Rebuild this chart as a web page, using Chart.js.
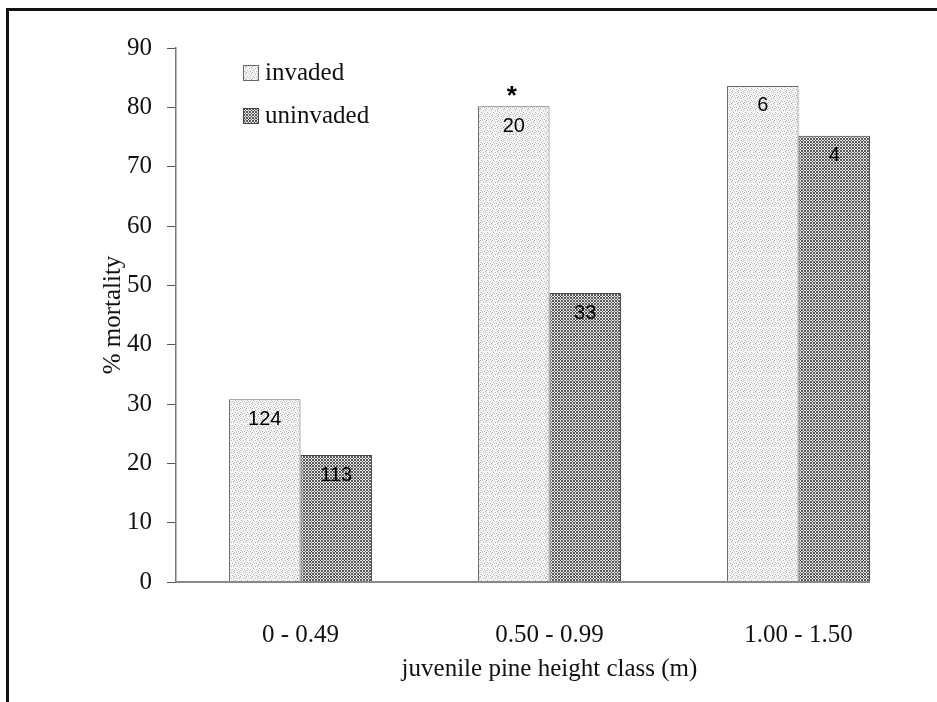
<!DOCTYPE html>
<html>
<head>
<meta charset="utf-8">
<script src="https://cdn.jsdelivr.net/npm/chart.js@4.4.1/dist/chart.umd.min.js"></script>
<style>
  html, body { margin: 0; padding: 0; background: #fff; }
  #wrap { position: relative; width: 937px; height: 702px; overflow: hidden; background: #fff; }
  #frame { position: absolute; left: 6px; top: 8px; width: 1000px; height: 800px;
           border-top: 3px solid #111; border-left: 3px solid #111; }
  canvas { position: absolute; left: 0; top: 0; }
</style>
</head>
<body>
<div id="wrap">
  <div id="frame"></div>
  <canvas id="c" width="937" height="702"></canvas>
</div>
<script>
// ---- data ----
const categories = ['0 - 0.49', '0.50 - 0.99', '1.00 - 1.50'];
const invaded = [30.8, 80.2, 83.6];
const uninvaded = [21.4, 48.7, 75.2];
const invadedN = ['124', '20', '6'];
const uninvadedN = ['113', '33', '4'];
const significance = ['', '*', ''];
const seriesNames = ['invaded', 'uninvaded'];
const yTicks = [0, 10, 20, 30, 40, 50, 60, 70, 80, 90];

function makePattern(kind) {
  const t = document.createElement('canvas');
  t.width = 6; t.height = 6;
  const g = t.getContext('2d');
  if (kind === 'light') {
    g.fillStyle = '#f6f6f6'; g.fillRect(0, 0, 6, 6);
    g.fillStyle = '#b0b0b0';
    [[0,0],[3,2],[1,4],[4,5],[5,1]].forEach(p => g.fillRect(p[0], p[1], 1, 1));
    g.fillStyle = '#d8d8d8';
    [[2,0],[5,3],[0,2],[2,5]].forEach(p => g.fillRect(p[0], p[1], 1, 1));
  } else {
    g.fillStyle = '#e8e8e8'; g.fillRect(0, 0, 6, 6);
    g.fillStyle = '#5a5a5a';
    for (let y = 0; y < 6; y++) for (let x = 0; x < 6; x++) {
      if ((Math.floor(x / 1.5) + Math.floor(y / 1.5)) % 2 === 0) g.fillRect(x, y, 1, 1);
    }
  }
  return g.createPattern(t, 'repeat');
}
const ctx0 = document.getElementById('c').getContext('2d');
const patLight = makePattern('light');
const patDark = makePattern('dark');

const serif = "'Liberation Serif', 'DejaVu Serif', serif";
const sans = "'Liberation Sans', Arial, sans-serif";

const annotate = {
  id: 'annotate',
  afterDatasetsDraw(chart) {
    const ctx = chart.ctx;
    const m0 = chart.getDatasetMeta(0);
    const m1 = chart.getDatasetMeta(1);
    const lastBar = m1.data[m1.data.length - 1];
    const yBase = chart.scales.y.getPixelForValue(0);
    ctx.save();
    ctx.strokeStyle = '#8a8a8a';
    ctx.lineWidth = 2;
    ctx.beginPath();
    ctx.moveTo(chart.chartArea.left, yBase);
    ctx.lineTo(lastBar.x + lastBar.width / 2, yBase);
    ctx.stroke();

    ctx.fillStyle = '#000';
    ctx.textAlign = 'center';
    ctx.textBaseline = 'middle';
    ctx.font = '20px ' + sans;
    m0.data.forEach((el, i) => ctx.fillText(invadedN[i], el.x, el.y + 20));
    m1.data.forEach((el, i) => ctx.fillText(uninvadedN[i], el.x, el.y + 20));
    ctx.font = 'bold 26px ' + sans;
    m0.data.forEach((el, i) => {
      if (significance[i]) ctx.fillText(significance[i], el.x - 2, el.y - 9);
    });

    const items = [[patLight, '#666', seriesNames[0], 73], [patDark, '#444', seriesNames[1], 116]];
    ctx.font = '25px ' + serif;
    ctx.textAlign = 'left';
    items.forEach(it => {
      ctx.fillStyle = it[0];
      ctx.fillRect(243, it[3] - 8, 16, 16);
      ctx.strokeStyle = it[1];
      ctx.lineWidth = 1;
      ctx.strokeRect(243.5, it[3] - 7.5, 15, 15);
      ctx.fillStyle = '#111';
      ctx.fillText(it[2], 265, it[3]);
    });
    ctx.restore();
  }
};

new Chart(ctx0, {
  type: 'bar',
  data: {
    labels: categories,
    datasets: [
      { label: seriesNames[0], data: invaded, backgroundColor: patLight, borderColor: '#666', borderWidth: 1, borderSkipped: 'bottom' },
      { label: seriesNames[1], data: uninvaded, backgroundColor: patDark, borderColor: '#444', borderWidth: 1, borderSkipped: 'bottom' }
    ]
  },
  options: {
    responsive: false,
    animation: false,
    devicePixelRatio: 1,
    categoryPercentage: 0.574,
    barPercentage: 1.0,
    layout: { padding: { left: 98, right: 14, top: 48, bottom: 10 } },
    plugins: { legend: { display: false }, tooltip: { enabled: false } },
    scales: {
      x: {
        offset: true,
        grid: { display: false },
        border: { display: false },
        ticks: { color: '#111', font: { family: serif, size: 25 }, padding: 30, maxRotation: 0 },
        title: { display: true, text: 'juvenile pine height class (m)', color: '#111',
                 font: { family: serif, size: 25 }, padding: { top: 0, bottom: 8 } },
        afterFit(s) { s.height = 110; }
      },
      y: {
        min: 0, max: 90,
        afterBuildTicks(s) { s.ticks = yTicks.map(v => ({ value: v })); },
        grid: { drawOnChartArea: false, drawTicks: true, tickLength: 9, color: '#555', lineWidth: 1 },
        border: { display: true, color: '#777', width: 1.5 },
        ticks: { color: '#111', font: { family: serif, size: 25 }, padding: 15 },
        title: { display: true, text: '% mortality', color: '#111',
                 font: { family: serif, size: 25 }, padding: { top: 0, bottom: 0 } },
        afterFit(s) { s.width = 78; }
      }
    }
  },
  plugins: [annotate]
});
</script>
</body>
</html>
